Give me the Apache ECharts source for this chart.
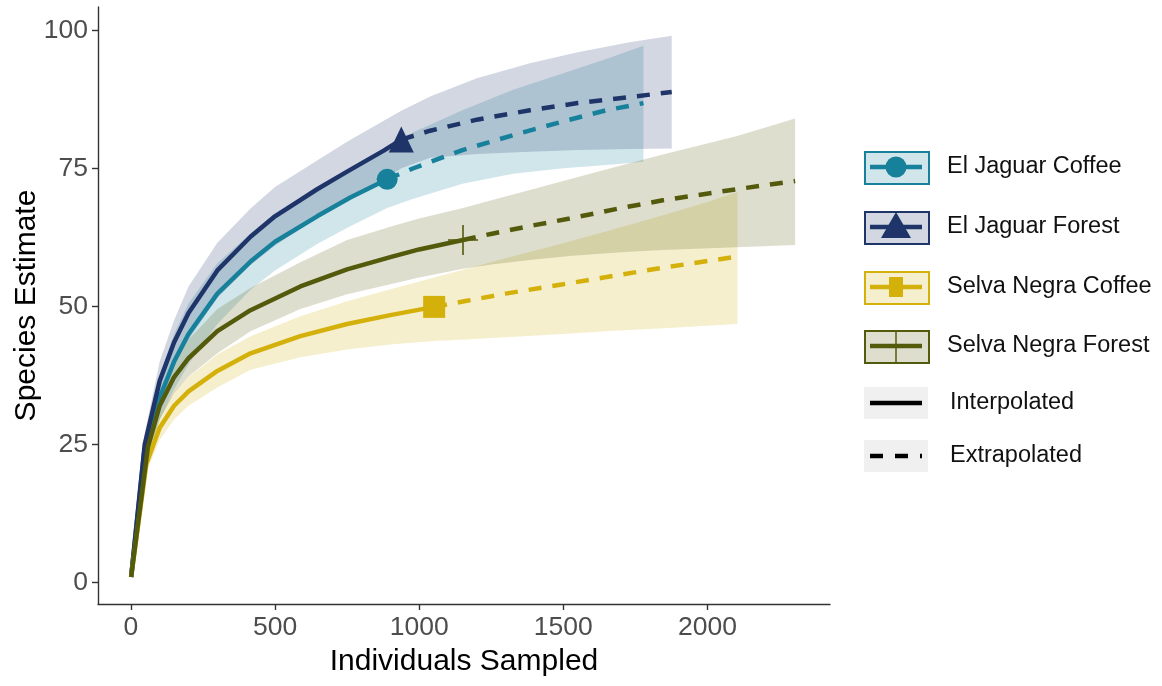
<!DOCTYPE html>
<html lang="en">
<head>
<meta charset="UTF-8">
<title>Species accumulation</title>
<script src="https://cdn.jsdelivr.net/npm/echarts@6/dist/echarts.min.js"></script>
<style>
  html, body { margin: 0; padding: 0; background: #fff; }
  #main { width: 1162px; height: 686px; }
</style>
</head>
<body>
<div id="main"></div>
<script type="text/javascript">
// axis ticks
var xTicks = [0, 500, 1000, 1500, 2000];
var yTicks = [0, 25, 50, 75, 100];

var groupNames = ['El Jaguar Coffee', 'El Jaguar Forest', 'Selva Negra Coffee', 'Selva Negra Forest'];
var methodNames = ['Interpolated', 'Extrapolated'];

// El Jaguar Coffee, observed sample n = 889
var ejcN  = 889;
var ejcX  = [1, 46, 100, 150, 200, 300, 415, 500, 646, 761, 889, 980, 1150, 1326, 1500, 1649, 1778];
var ejcY  = [1, 23.5, 33.5, 40, 45, 52.3, 58.1, 61.7, 66.3, 69.7, 73, 75, 78.3, 81, 83.5, 85.5, 86.8];
var ejcLo = [1, 21.5, 29.5, 35, 39.5, 46.8, 53, 56.5, 61.3, 64.5, 67.8, 69.5, 72.2, 74, 75, 75.6, 76.2];
var ejcHi = [1, 25.5, 37.5, 45, 50.5, 57.8, 63.2, 66.9, 71.3, 74.9, 78.2, 81.5, 85.5, 89.2, 92.2, 94.8, 97.2];

// El Jaguar Forest, n = 938
var ejfN  = 938;
var ejfX  = [1, 48, 100, 150, 200, 300, 415, 500, 646, 750, 877, 938, 1038, 1200, 1384, 1550, 1730, 1876];
var ejfY  = [1, 25, 36.5, 43.5, 48.8, 56.5, 62.6, 66.3, 71.2, 74.4, 78.2, 80.2, 81.8, 83.8, 85.5, 86.8, 87.9, 88.8];
var ejfLo = [1, 23, 33, 39.5, 44, 51.5, 57.5, 61, 66, 69, 72.8, 75, 76.9, 77.6, 78, 78.3, 78.5, 78.6];
var ejfHi = [1, 27, 40, 47.5, 53.6, 61.5, 67.7, 71.6, 76.4, 79.8, 83.6, 85.4, 88, 91.3, 94, 96, 97.8, 99];

// Selva Negra Coffee, n = 1052
var sncN  = 1052;
var sncX  = [1, 54, 100, 150, 200, 300, 415, 588, 750, 900, 1052, 1165, 1300, 1499, 1650, 1834, 2000, 2104];
var sncY  = [1, 21.5, 28, 32, 34.6, 38.3, 41.5, 44.6, 46.8, 48.4, 49.9, 51, 52.3, 54, 55.3, 56.9, 58.2, 59];
var sncLo = [1, 20, 25.8, 29.5, 32, 35.3, 38.5, 40.8, 42.2, 43.1, 43.7, 44, 44.4, 45, 45.5, 46, 46.5, 46.8];
var sncHi = [1, 23, 30.2, 34.5, 37.2, 41.3, 44.6, 48.2, 50.9, 53.1, 55.2, 56.8, 58.7, 61.4, 63.6, 66.3, 68.9, 70.7];

// Selva Negra Forest, n = 1152
var snfN  = 1152;
var snfX  = [1, 59, 100, 150, 200, 300, 415, 588, 750, 900, 1000, 1152, 1257, 1400, 1522, 1700, 1845, 2100, 2304];
var snfY  = [1, 24.5, 32, 37.2, 40.6, 45.5, 49.3, 53.6, 56.7, 58.9, 60.3, 62, 63.2, 64.7, 65.9, 67.8, 69.2, 71.2, 72.7];
var snfLo = [1, 22.5, 29.5, 34.3, 37.3, 41.5, 45.5, 49.5, 52.2, 54, 55.2, 56.8, 57.6, 58.5, 59.1, 59.8, 60.2, 60.7, 61.1];
var snfHi = [1, 26.5, 34.5, 40.1, 44, 49.5, 53.3, 58, 62, 64.4, 65.9, 67.8, 69.3, 71.3, 73, 75.5, 77.5, 80.8, 84];

var colors = ['#17819b', '#1f3569', '#d4b00a', '#545a0c'];
var bands = ['rgba(23,129,155,0.2)', 'rgba(31,53,105,0.2)', 'rgba(212,176,10,0.2)', 'rgba(84,90,12,0.2)'];
var plusPath = 'path://M14.2,0h1.6v30h-1.6z M0,14.2h30v1.6h-30z';
var markers = [
    { symbol: 'circle', size: 21 },
    { symbol: 'triangle', size: [25, 26] },
    { symbol: 'rect', size: 22 },
    { symbol: plusPath, size: 30 }
];

var groups = [
    { n: ejcN, x: ejcX, y: ejcY, lo: ejcLo, hi: ejcHi },
    { n: ejfN, x: ejfX, y: ejfY, lo: ejfLo, hi: ejfHi },
    { n: sncN, x: sncX, y: sncY, lo: sncLo, hi: sncHi },
    { n: snfN, x: snfX, y: snfY, lo: snfLo, hi: snfHi }
];

var font = 'Liberation Sans, Arial, sans-serif';
var series = [];

groups.forEach(function (g, k) {
    // confidence band as one polygon through the axis scales
    series.push({
        type: 'custom',
        name: groupNames[k] + ' band',
        silent: true,
        z: 1,
        data: g.x.map(function (v, i) { return [v, g.lo[i], g.hi[i]]; }),
        encode: { x: 0, y: [1, 2] },
        renderItem: function (params, api) {
            if (params.dataIndex !== 0) return null;
            var pts = [];
            for (var i = 0; i < g.x.length; i++) pts.push(api.coord([g.x[i], g.hi[i]]));
            for (var j = g.x.length - 1; j >= 0; j--) pts.push(api.coord([g.x[j], g.lo[j]]));
            return { type: 'polygon', shape: { points: pts }, style: { fill: bands[k] } };
        }
    });
});

groups.forEach(function (g, k) {
    var solid = [], dashed = [], obs = null;
    for (var i = 0; i < g.x.length; i++) {
        if (g.x[i] <= g.n) solid.push([g.x[i], g.y[i]]);
        if (g.x[i] >= g.n) dashed.push([g.x[i], g.y[i]]);
        if (g.x[i] === g.n) obs = [g.x[i], g.y[i]];
    }
    series.push({
        type: 'line', name: groupNames[k], data: solid, showSymbol: false, symbol: 'none',
        z: 3, lineStyle: { color: colors[k], width: 4.5, join: 'round' }
    });
    series.push({
        type: 'line', name: groupNames[k] + ' extrapolated', data: dashed, showSymbol: false, symbol: 'none',
        z: 3, lineStyle: { color: colors[k], width: 4.5, type: [13, 11] }
    });
    series.push({
        type: 'scatter', name: groupNames[k] + ' observed', data: [obs], z: 4,
        symbol: markers[k].symbol, symbolSize: markers[k].size,
        itemStyle: { color: colors[k], opacity: 1 }
    });
});

// legend drawn as graphic keys
var graphics = [];
var rowY = [167, 227, 287, 346];
groupNames.forEach(function (name, k) {
    var cy = rowY[k];
    graphics.push({ type: 'rect', left: 864, top: cy - 16, shape: { width: 64, height: 32 },
        style: { fill: bands[k], stroke: colors[k], lineWidth: 2 } });
    graphics.push({ type: 'line', shape: { x1: 870, y1: cy, x2: 922, y2: cy },
        style: { stroke: colors[k], lineWidth: 4.5 } });
    if (k === 0) {
        graphics.push({ type: 'circle', shape: { cx: 896, cy: cy, r: 10.5 }, style: { fill: colors[k] } });
    } else if (k === 1) {
        graphics.push({ type: 'polygon', shape: { points: [[896, cy - 15], [881, cy + 11], [911, cy + 11]] },
            style: { fill: colors[k] } });
    } else if (k === 2) {
        graphics.push({ type: 'rect', shape: { x: 889, y: cy - 10, width: 14, height: 20 }, style: { fill: colors[k] } });
    } else {
        graphics.push({ type: 'line', shape: { x1: 896, y1: cy - 16, x2: 896, y2: cy + 16 },
            style: { stroke: colors[k], lineWidth: 1.5 } });
    }
    graphics.push({ type: 'text', x: 947, y: cy, style: { text: name, fill: '#111', font: '23.5px ' + font, verticalAlign: 'middle' } });
});
var methY = [403, 456];
methodNames.forEach(function (name, k) {
    var cy = methY[k];
    graphics.push({ type: 'rect', shape: { x: 864, y: cy - 16, width: 64, height: 32 }, style: { fill: '#f0f0f0' } });
    graphics.push({ type: 'line', shape: { x1: 870, y1: cy, x2: 922, y2: cy },
        style: { stroke: '#000', lineWidth: 4.5, lineDash: k === 1 ? [13, 12] : null } });
    graphics.push({ type: 'text', x: 950, y: cy, style: { text: name, fill: '#111', font: '23.5px ' + font, verticalAlign: 'middle' } });
});

var plain = function (v) { return String(v); };

var chart = echarts.init(document.getElementById('main'), null, { renderer: 'canvas' });
chart.setOption({
    animation: false,
    backgroundColor: '#fff',
    grid: { left: 98, right: 332, top: 7, bottom: 82, containLabel: false, outerBoundsMode: 'none' },
    xAxis: {
        type: 'value', min: -114, max: 2425,
        name: 'Individuals Sampled', nameLocation: 'middle', nameGap: 43, nameMoveOverlap: false,
        nameTextStyle: { fontSize: 30, color: '#000', fontFamily: font },
        splitLine: { show: false },
        axisLine: { onZero: false, lineStyle: { color: '#333', width: 1.4 } },
        axisTick: { customValues: xTicks, length: 6, lineStyle: { color: '#333', width: 1.4 } },
        axisLabel: { customValues: xTicks, formatter: plain, fontSize: 26.5, color: '#4d4d4d', margin: 10, fontFamily: font }
    },
    yAxis: {
        type: 'value', min: -3.9, max: 104.2,
        name: 'Species Estimate', nameLocation: 'middle', nameGap: 56, nameMoveOverlap: false,
        nameTextStyle: { fontSize: 30, color: '#000', fontFamily: font },
        splitLine: { show: false },
        axisLine: { onZero: false, lineStyle: { color: '#333', width: 1.4 } },
        axisTick: { customValues: yTicks, length: 6, lineStyle: { color: '#333', width: 1.4 } },
        axisLabel: { customValues: yTicks, formatter: plain, fontSize: 26.5, color: '#4d4d4d', margin: 10, fontFamily: font }
    },
    graphic: graphics,
    series: series
});
</script>
</body>
</html>
